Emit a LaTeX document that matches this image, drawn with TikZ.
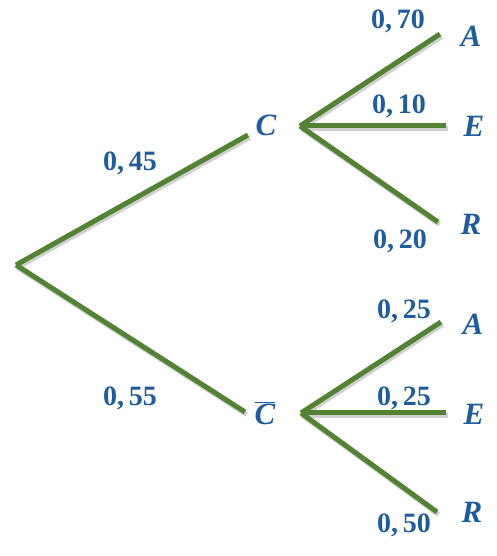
\documentclass[tikz,border=0pt]{standalone}
\usepackage{fontspec}
\setmainfont{Liberation Serif}
\usetikzlibrary{calc}
\definecolor{branchgreen}{HTML}{548235}
\definecolor{labelblue}{HTML}{1F5C99}
\definecolor{shadowgray}{HTML}{B0B0B0}
\tikzset{
  x=1pt, y=1pt,
  branch/.style={draw=branchgreen, line width=5pt},
  branchshadow/.style={draw=shadowgray, line width=5pt, opacity=0.6},
  prob/.style={text=labelblue, font=\fontsize{28}{28}\selectfont\bfseries, inner sep=0pt},
  event/.style={text=labelblue, font=\fontsize{31}{31}\selectfont\bfseries\itshape, inner sep=0pt}
}
\newcommand{\twig}[2]{%
  \path[branchshadow] ($(#1)+(1.5,-2.5)$) -- ($(#2)+(1.5,-2.5)$);
  \path[branch] (#1) -- (#2);}
\begin{document}
\begin{tikzpicture}
\useasboundingbox (0,0) rectangle (496,556);
% points (y = 556 - pixel row)
\coordinate (O) at (16,291);
\coordinate (Cin) at (248,421);
\coordinate (Cbin) at (245,144);
\coordinate (Cout) at (300,430);
\coordinate (Cbout) at (301,143);
\coordinate (CA) at (440,522);
\coordinate (CE) at (446,430);
\coordinate (CR) at (438,334);
\coordinate (CbA) at (441,234);
\coordinate (CbE) at (446,143);
\coordinate (CbR) at (437,44);
% branches
\twig{O}{Cin}
\twig{O}{Cbin}
\twig{Cout}{CA}
\twig{Cout}{CE}
\twig{Cout}{CR}
\twig{Cbout}{CbA}
\twig{Cbout}{CbE}
\twig{Cbout}{CbR}
% events
\node[event] (C) at (266,431) {C};
\node[event] (Cb) at (265,143) {$\overline{\mbox{\textit{C}}}$};
\node[event] (A1) at (471,520) {A};
\node[event] (E1) at (474,430) {E};
\node[event] (R1) at (471,332) {R};
\node[event] (A2) at (473,232) {A};
\node[event] (E2) at (474,142) {E};
\node[event] (R2) at (472,44) {R};
% probabilities
\node[prob] (p45) at (130,393) {0,\,45};
\node[prob] (p55) at (130,158) {0,\,55};
\node[prob] (p70) at (398,535) {0,\,70};
\node[prob] (p10) at (399,450) {0,\,10};
\node[prob] (p20) at (400,315) {0,\,20};
\node[prob] (p25a) at (404,245) {0,\,25};
\node[prob] (p25b) at (404,158) {0,\,25};
\node[prob] (p50) at (404,31) {0,\,50};
\end{tikzpicture}
\end{document}
